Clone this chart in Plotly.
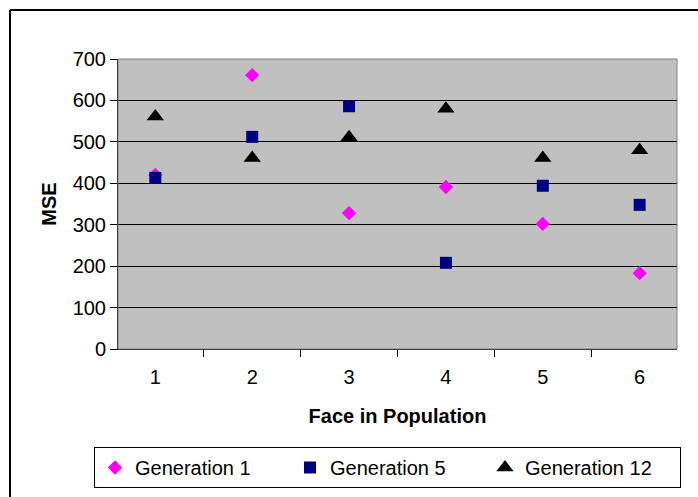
import plotly.graph_objects as go

faces = ["1", "2", "3", "4", "5", "6"]
gen1 = [420, 661, 328, 391, 302, 183]
gen5 = [413, 512, 586, 208, 394, 348]
gen12 = [561, 461, 511, 580, 461, 480]
y_ticks = [0, 100, 200, 300, 400, 500, 600, 700]

W, H = 698, 497
L, R, T, B = 118, 21, 59, 148
pw, ph = W - L - R, H - T - B

def px(x):
    return (x - L) / pw

def py(y):
    return (H - B - y) / ph

FONT = "Liberation Sans, Arial, sans-serif"

fig = go.Figure()
fig.add_trace(go.Scatter(x=faces, y=gen1, mode="markers", name="Generation 1",
                         marker=dict(symbol="diamond", size=11, color="#FF00FF")))
fig.add_trace(go.Scatter(x=faces, y=gen5, mode="markers", name="Generation 5",
                         marker=dict(symbol="square", size=12, color="#000080")))
fig.add_trace(go.Scatter(x=faces, y=gen12, mode="markers", name="Generation 12",
                         marker=dict(symbol="triangle-up", size=15, color="#000000")))

fig.update_layout(
    width=W, height=H,
    margin=dict(l=L, r=R, t=T, b=B, autoexpand=False),
    paper_bgcolor="white",
    plot_bgcolor="#C0C0C0",
    font=dict(family=FONT, size=20, color="black"),
    showlegend=True,
    legend=dict(orientation="h", x=px(94), y=py(447), xanchor="left", yanchor="top",
                bordercolor="black", borderwidth=1, bgcolor="white",
                entrywidth=150, entrywidthmode="pixels",
                font=dict(family=FONT, size=20, color="black")),
    xaxis=dict(type="category", categoryorder="array", categoryarray=faces,
               showgrid=False, showline=True, linecolor="black", linewidth=1,
               ticks="outside", tickson="boundaries", ticklen=7, tickcolor="black",
               ticklabelstandoff=10,
               title=dict(text="<b>Face in Population</b>", standoff=21,
                          font=dict(family=FONT, size=20, color="black"))),
    yaxis=dict(range=[0, 700], tickvals=y_ticks, showgrid=True, gridcolor="black",
               gridwidth=1, zeroline=False, showline=True, linecolor="black",
               linewidth=1, ticks="outside", ticklen=7, tickcolor="black",
               title=dict(text="<b>MSE</b>", standoff=10,
                          font=dict(family=FONT, size=20, color="black"))),
    shapes=[
        dict(type="rect", xref="paper", yref="paper", x0=0, x1=1, y0=0, y1=1,
             line=dict(color="#808080", width=1), layer="above"),
        dict(type="line", xref="paper", yref="paper", x0=px(10), x1=px(720),
             y0=py(10), y1=py(10), line=dict(color="black", width=2)),
        dict(type="line", xref="paper", yref="paper", x0=px(10), x1=px(10),
             y0=py(10), y1=py(520), line=dict(color="black", width=2)),
    ],
)

fig.write_html("out.html")
